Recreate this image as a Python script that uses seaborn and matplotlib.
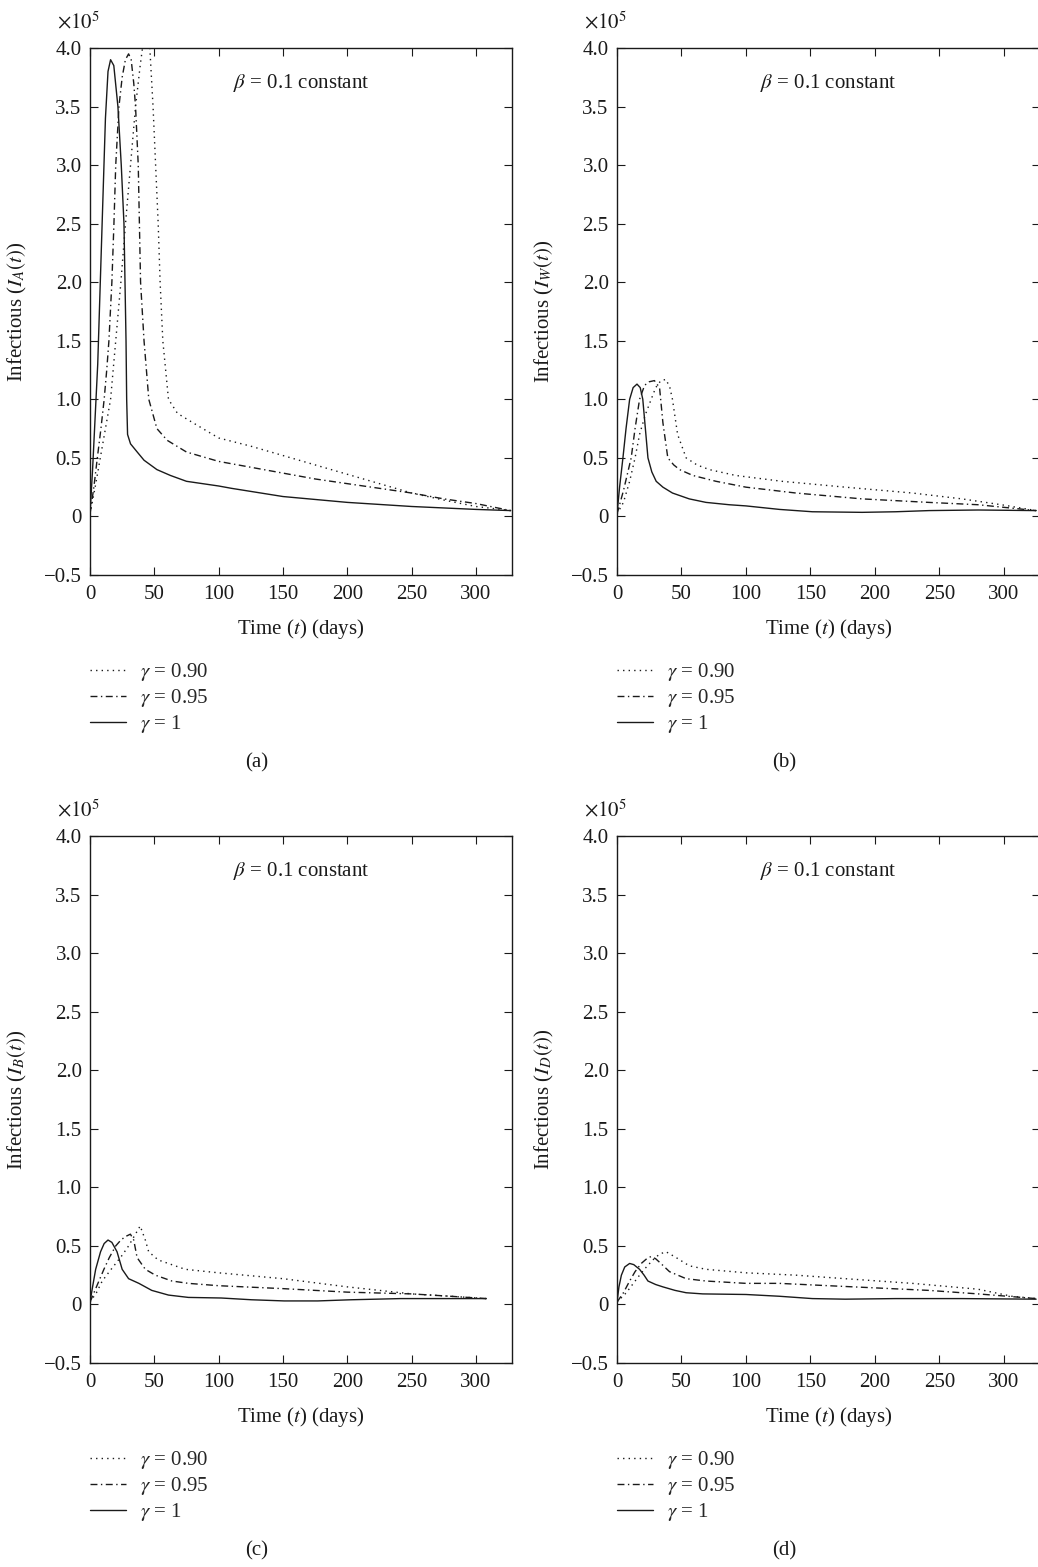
import matplotlib
matplotlib.use("Agg")
import matplotlib.pyplot as plt
import seaborn as sns

# values are in units of 1e5 (shown with the x10^5 factor on each axis)
# panel (a): I_A(t)
t_a_90 = [0, 4, 8, 12, 16, 20, 24, 27.6, 31.5, 35.4, 39, 42, 44, 46.5, 49, 51, 53, 54.5, 56.6, 61,
          68, 80, 100, 125, 150, 175, 200, 225, 250, 275, 300, 327]
i_a_90 = [0.02, 0.25, 0.5, 0.75, 1.0, 1.5, 2.0, 2.5, 3.0, 3.5, 3.85, 4.1, 4.2, 4.0, 3.5, 3.0, 2.5, 2.0, 1.5, 1.0,
          0.88, 0.8, 0.67, 0.6, 0.52, 0.44, 0.36, 0.28, 0.2, 0.14, 0.085, 0.05]
t_a_95 = [0, 3, 5.7, 8.5, 11, 13, 14.7, 17, 18.6, 20, 22.5, 25, 27.5, 30, 32, 34, 35.4, 37.5, 39.3, 42,
          45.7, 52, 60, 75, 100, 125, 150, 175, 200, 225, 250, 275, 300, 327]
i_a_95 = [0.02, 0.25, 0.5, 0.75, 1.0, 1.25, 1.5, 2.0, 2.5, 3.0, 3.5, 3.75, 3.9, 3.95, 3.9, 3.7, 3.5, 3.0, 2.0, 1.5,
          1.0, 0.75, 0.65, 0.55, 0.47, 0.42, 0.37, 0.32, 0.28, 0.24, 0.2, 0.15, 0.11, 0.05]
t_a_100 = [0, 2, 4, 6, 8, 10, 12, 14, 16, 18.5, 21.7, 24.3, 26.4, 27.2, 28, 28.5, 29.2, 31.5, 36.7, 42,
           52, 62.5, 75, 100, 110, 150, 200, 250, 300, 327]
i_a_100 = [0.02, 0.4, 0.85, 1.3, 2.0, 2.7, 3.4, 3.8, 3.9, 3.85, 3.5, 3.0, 2.5, 2.0, 1.5, 1.0, 0.7, 0.62, 0.55, 0.48,
           0.4, 0.35, 0.3, 0.26, 0.24, 0.17, 0.12, 0.085, 0.06, 0.05]

# panel (b): I_W(t)
t_b_90 = [0, 5, 9.8, 14, 17.5, 22, 26.5, 30, 34, 38, 41, 43, 47, 53.6, 62, 71.6, 92, 128, 177, 229, 267.5, 298, 325]
i_b_90 = [0.02, 0.12, 0.3, 0.5, 0.7, 0.87, 1.0, 1.1, 1.16, 1.17, 1.1, 1.0, 0.7, 0.5, 0.44, 0.4, 0.35, 0.3, 0.25,
          0.2, 0.15, 0.1, 0.05]
t_b_95 = [0, 5, 11, 14, 17.5, 21.4, 25, 29, 33, 35.6, 39.4, 44, 48.5, 58.8, 76.8, 100, 138.7, 190, 241.7, 280, 325]
i_b_95 = [0.02, 0.22, 0.5, 0.75, 1.0, 1.12, 1.15, 1.16, 1.1, 0.8, 0.5, 0.44, 0.4, 0.35, 0.3, 0.25, 0.2, 0.15,
          0.12, 0.1, 0.05]
t_b_100 = [0, 2, 4.6, 7, 9.8, 12.5, 15.5, 18, 20, 22, 24, 27, 30.4, 35.6, 43, 56, 69, 87, 100, 126, 151.5, 190,
           216, 242, 280, 325]
i_b_100 = [0.02, 0.25, 0.5, 0.75, 1.0, 1.1, 1.13, 1.1, 1.0, 0.75, 0.5, 0.38, 0.3, 0.25, 0.2, 0.15, 0.12, 0.1,
           0.09, 0.06, 0.04, 0.035, 0.04, 0.05, 0.055, 0.05]

# panel (c): I_B(t)
t_c_90 = [0, 5, 9.5, 15, 20, 25, 30, 35.3, 39, 43, 45.6, 53, 74, 100, 150, 200, 250, 280, 308]
i_c_90 = [0.02, 0.1, 0.2, 0.28, 0.35, 0.42, 0.5, 0.6, 0.67, 0.55, 0.45, 0.38, 0.3, 0.27, 0.22, 0.15, 0.09,
          0.07, 0.05]
t_c_95 = [0, 5, 10.8, 15, 20, 24, 27.6, 31.4, 34, 36.6, 43, 50.8, 63.7, 76.5, 100, 150, 200, 250, 280, 308]
i_c_95 = [0.02, 0.15, 0.3, 0.4, 0.5, 0.55, 0.58, 0.6, 0.55, 0.4, 0.3, 0.25, 0.2, 0.18, 0.16, 0.135, 0.105,
          0.09, 0.07, 0.05]
t_c_100 = [0, 2, 4.4, 8.2, 11, 14, 17, 21, 25, 30, 38, 48, 61, 76.5, 102, 125.5, 151, 177, 203, 241.5, 308]
i_c_100 = [0.02, 0.15, 0.3, 0.45, 0.52, 0.55, 0.53, 0.45, 0.3, 0.22, 0.18, 0.12, 0.08, 0.06, 0.055, 0.04, 0.03,
           0.03, 0.04, 0.05, 0.05]

# panel (d): I_D(t)
t_d_90 = [0, 7.2, 12, 17.5, 22, 27.8, 33, 38, 45.9, 56, 69, 100, 138.7, 177, 229, 280, 306, 325]
i_d_90 = [0.02, 0.1, 0.17, 0.25, 0.31, 0.38, 0.43, 0.45, 0.4, 0.33, 0.3, 0.27, 0.25, 0.22, 0.18, 0.13, 0.07, 0.05]
t_d_95 = [0, 5, 9.8, 14, 18.8, 23, 26.5, 30, 34, 40.7, 53.6, 69, 100, 125.8, 164, 203, 241.8, 280, 325]
i_d_95 = [0.02, 0.1, 0.2, 0.28, 0.35, 0.39, 0.41, 0.39, 0.35, 0.28, 0.22, 0.2, 0.18, 0.18, 0.16, 0.14, 0.12,
          0.09, 0.05]
t_d_100 = [0, 1.5, 3.4, 6, 9.8, 13, 17.5, 21, 24, 30, 35.6, 45, 53.6, 66.5, 100, 125.8, 151.5, 177, 216, 267.5, 325]
i_d_100 = [0.02, 0.15, 0.25, 0.32, 0.35, 0.34, 0.3, 0.25, 0.2, 0.17, 0.15, 0.12, 0.1, 0.09, 0.085, 0.07, 0.05,
           0.045, 0.05, 0.05, 0.045]

gamma_labels = [r"$\gamma$ = 0.90", r"$\gamma$ = 0.95", r"$\gamma$ = 1"]
panel_letters = ["(a)", "(b)", "(c)", "(d)"]
ylabels = [r"Infectious ($I_A(t)$)", r"Infectious ($I_W(t)$)",
           r"Infectious ($I_B(t)$)", r"Infectious ($I_D(t)$)"]
yticks = [-0.5, 0, 0.5, 1.0, 1.5, 2.0, 2.5, 3.0, 3.5, 4.0]
ytick_labels = ["\u22120.5", "0", "0.5", "1.0", "1.5", "2.0", "2.5", "3.0", "3.5", "4.0"]
xticks = [0, 50, 100, 150, 200, 250, 300]

panels = [
    [(t_a_90, i_a_90), (t_a_95, i_a_95), (t_a_100, i_a_100)],
    [(t_b_90, i_b_90), (t_b_95, i_b_95), (t_b_100, i_b_100)],
    [(t_c_90, i_c_90), (t_c_95, i_c_95), (t_c_100, i_c_100)],
    [(t_d_90, i_d_90), (t_d_95, i_d_95), (t_d_100, i_d_100)],
]
line_styles = [(0, (1, 3)), (0, (5, 2.5, 1, 2.5)), "-"]

sns.set_style("ticks")
plt.rcParams["font.family"] = ["Liberation Serif", "DejaVu Serif"]
plt.rcParams["mathtext.fontset"] = "stix"
plt.rcParams["axes.unicode_minus"] = True

W, H = 1038, 1567
fig = plt.figure(figsize=(W / 100, H / 100), dpi=100)

# axes boxes in pixels: left, top, right, bottom
boxes = [(90, 48, 512, 575), (617, 48, 1040, 575), (90, 836, 512, 1363), (617, 836, 1040, 1363)]
ink = "#1a1a1a"
fs = 15

for k, (l, t, r, b) in enumerate(boxes):
    ax = fig.add_axes([l / W, 1 - b / H, (r - l) / W, (b - t) / H])
    for (tt, ii), ls, lab in zip(panels[k], line_styles, gamma_labels):
        sns.lineplot(x=tt, y=ii, ax=ax, color=ink, linewidth=1.0, linestyle=ls, label=lab)
    ax.set_xlim(0, 328)
    ax.set_ylim(-0.5, 4.0)
    ax.set_xticks(xticks)
    ax.set_xticklabels([str(v) for v in xticks])
    ax.set_yticks(yticks)
    ax.set_yticklabels(ytick_labels)
    ax.tick_params(direction="in", top=True, right=True, length=6, width=0.8,
                   labelsize=fs, colors=ink)
    ax.tick_params(axis="x", pad=7)
    ax.tick_params(axis="y", pad=6)
    for s in ax.spines.values():
        s.set_linewidth(1.0)
        s.set_color(ink)
    ax.set_xlabel(r"Time ($t$) (days)", fontsize=fs, color=ink)
    ax.set_ylabel(ylabels[k], fontsize=fs, color=ink)
    ax.xaxis.set_label_coords(0.5, -0.08)
    ax.yaxis.set_label_coords(-0.145, 0.5)
    ax.text(0.024, 1.038, r"$\times10^5$", transform=ax.transAxes, ha="right",
            va="baseline", fontsize=fs, color=ink)
    ax.text(0.5, 0.934, r"$\beta$ = 0.1 constant", transform=ax.transAxes, ha="center",
            va="center", fontsize=fs, color=ink)
    ax.legend(loc="upper left", bbox_to_anchor=(0, -0.163), frameon=False, fontsize=fs,
              handlelength=1.75, handletextpad=0.65, labelspacing=0.2, borderpad=0,
              borderaxespad=0)
    fig.text((l + 167) / W, 1 - (b + 188) / H, panel_letters[k], ha="center", va="center",
             fontsize=fs, color=ink)

fig.savefig("out.png", dpi=100)
